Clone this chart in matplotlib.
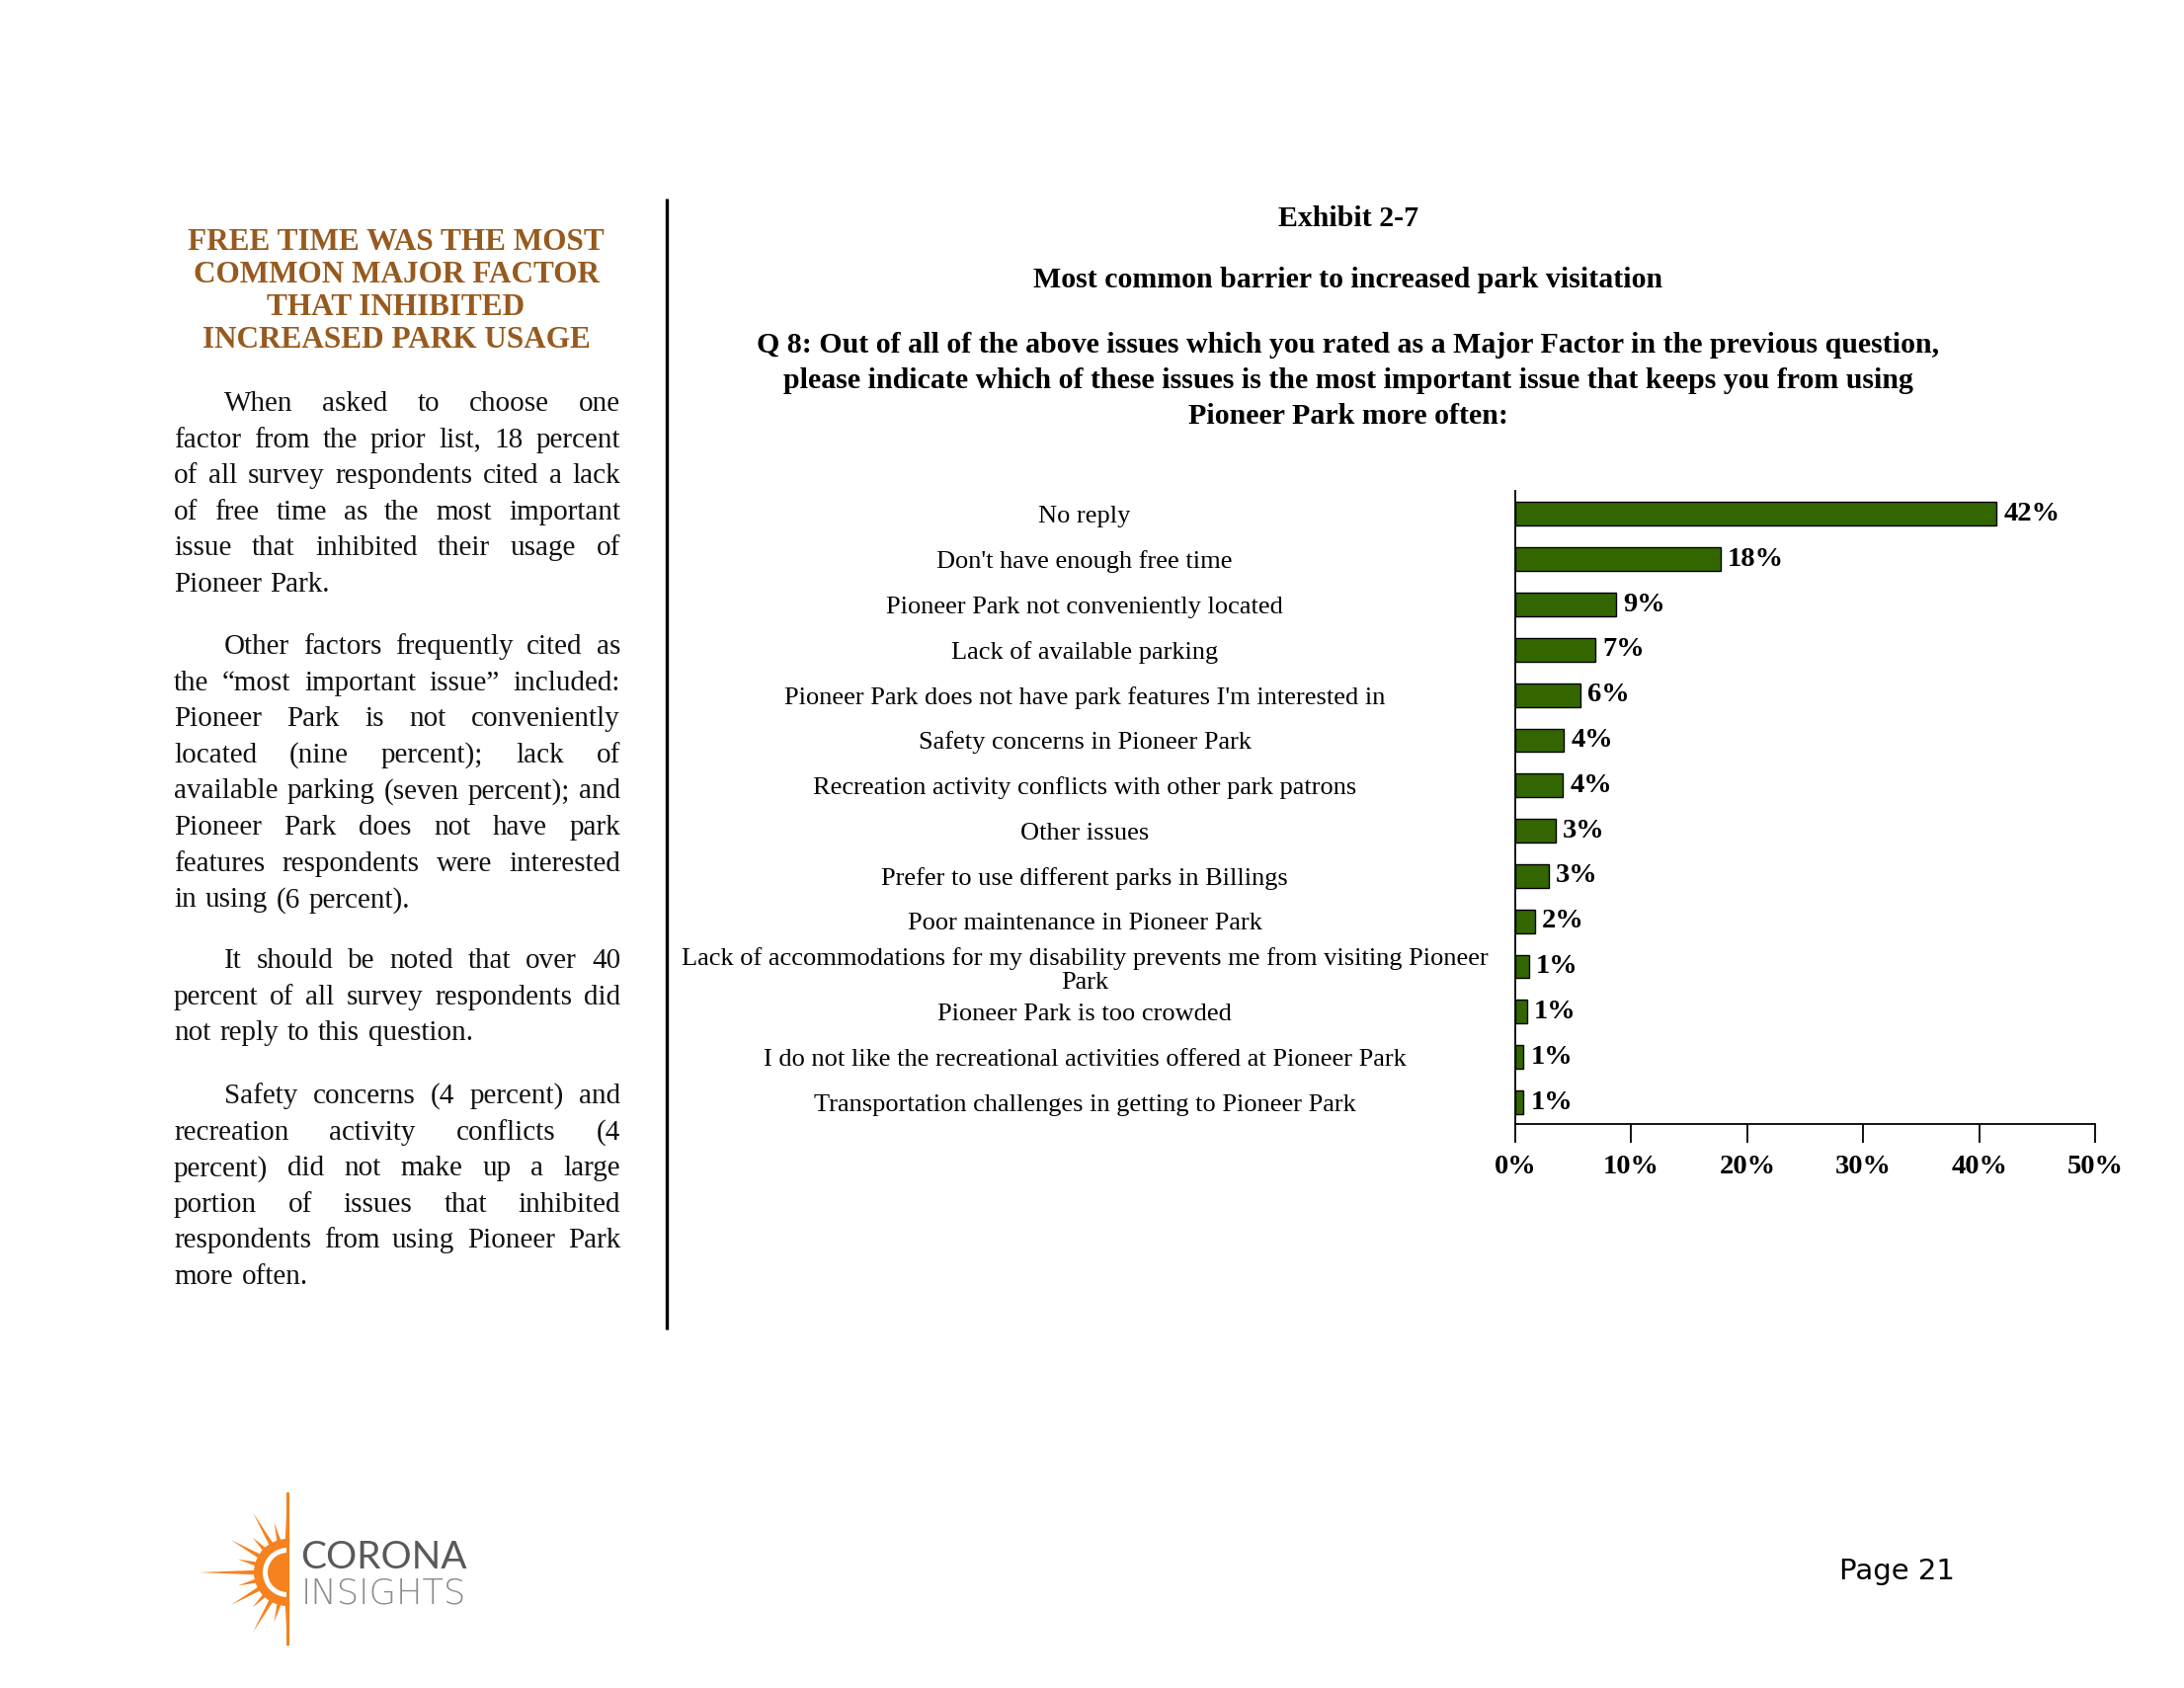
"""
Pioneer Park survey page: Exhibit 2-7 bar chart with the text column
"""

import matplotlib
matplotlib.use('Agg')
import matplotlib.pyplot as plt
from matplotlib.patches import Wedge, Polygon
import numpy as np

# page size in pixels
W, H = 2211, 1709
DPI = 100

SERIF = ['Liberation Serif', 'DejaVu Serif']
SANS = ['Lato', 'DejaVu Sans']

# chart data
categories = [
    "No reply",
    "Don't have enough free time",
    "Pioneer Park not conveniently located",
    "Lack of available parking",
    "Pioneer Park does not have park features I'm interested in",
    "Safety concerns in Pioneer Park",
    "Recreation activity conflicts with other park patrons",
    "Other issues",
    "Prefer to use different parks in Billings",
    "Poor maintenance in Pioneer Park",
    "Lack of accommodations for my disability prevents me from visiting Pioneer\nPark",
    "Pioneer Park is too crowded",
    "I do not like the recreational activities offered at Pioneer Park",
    "Transportation challenges in getting to Pioneer Park",
]
values = [41.5, 17.7, 8.7, 6.9, 5.6, 4.2, 4.1, 3.5, 2.9, 1.7, 1.2, 1.0, 0.7, 0.7]
value_labels = ['42%', '18%', '9%', '7%', '6%', '4%', '4%', '3%', '3%', '2%',
                '1%', '1%', '1%', '1%']
x_ticks = [0, 10, 20, 30, 40, 50]
x_tick_labels = ['0%', '10%', '20%', '30%', '40%', '50%']

heading_lines = [
    "FREE TIME WAS THE MOST",
    "COMMON MAJOR FACTOR",
    "THAT INHIBITED",
    "INCREASED PARK USAGE",
]

paragraphs = [
    ["When asked to choose one",
     "factor from the prior list, 18 percent",
     "of all survey respondents cited a lack",
     "of free time as the most important",
     "issue that inhibited their usage of",
     "Pioneer Park."],
    ["Other factors frequently cited as",
     "the \u201cmost important issue\u201d included:",
     "Pioneer Park is not conveniently",
     "located (nine percent); lack of",
     "available parking (seven percent); and",
     "Pioneer Park does not have park",
     "features respondents were interested",
     "in using (6 percent)."],
    ["It should be noted that over 40",
     "percent of all survey respondents did",
     "not reply to this question."],
    ["Safety concerns (4 percent) and",
     "recreation activity conflicts (4",
     "percent) did not make up a large",
     "portion of issues that inhibited",
     "respondents from using Pioneer Park",
     "more often."],
]
paragraph_tops = [416, 662, 980, 1117]

title_lines = [
    ("Exhibit 2-7", 229),
    ("Most common barrier to increased park visitation", 291),
    ("Q 8: Out of all of the above issues which you rated as a Major Factor in the previous question,", 357),
    ("please indicate which of these issues is the most important issue that keeps you from using", 393),
    ("Pioneer Park more often:", 429),
]

fig = plt.figure(figsize=(W / DPI, H / DPI), dpi=DPI)
fig.patch.set_facecolor('white')

# full page overlay in pixel coordinates
bg = fig.add_axes([0, 0, 1, 1])
bg.set_xlim(0, W)
bg.set_ylim(H, 0)
bg.axis('off')

# vertical divider
bg.plot([675, 675], [201, 1346], color='black', lw=2.4, solid_capstyle='butt')

# left heading
for i, line in enumerate(heading_lines):
    bg.text(401, 253 + i * 33, line, ha='center', va='baseline', fontsize=22.5,
            family=SERIF, fontweight='bold', color='#975a1e')

# justified body text
renderer = fig.canvas.get_renderer()
body_size = 21
x_left, x_right, indent, step = 176, 628, 51, 36.6
for para, y0 in zip(paragraphs, paragraph_tops):
    for k, line in enumerate(para):
        y = y0 + k * step
        words = line.split(' ')
        start = x_left + (indent if k == 0 else 0)
        texts = [bg.text(0, y, w, fontsize=body_size, family=SERIF,
                         va='baseline', color='#111111') for w in words]
        widths = [t.get_window_extent(renderer=renderer).width for t in texts]
        if k == len(para) - 1 or len(words) == 1:
            gap = body_size * DPI / 72 * 0.3
        else:
            gap = (x_right - start - sum(widths)) / (len(words) - 1)
        pos = start
        for t, w in zip(texts, widths):
            t.set_x(pos)
            pos += w + gap

# chart titles
for text, y in title_lines:
    bg.text(1365, y, text, ha='center', va='baseline', fontsize=21.5,
            family=SERIF, fontweight='bold')

# logo
cx, cy = 291, 1592
orange = '#f5821f'
ray_angles = [90, 105, 120, 135, 150, 165, 180, 195, 210, 225, 240, 255, 270]
ray_lengths = [80, 52, 70, 50, 66, 52, 90, 52, 66, 50, 70, 52, 75]
for ang, ln in zip(ray_angles, ray_lengths):
    a = np.radians(ang)
    da = np.radians(4.5)
    pts = [(cx + 30 * np.cos(a - da), cy - 30 * np.sin(a - da)),
           (cx + ln * np.cos(a), cy - ln * np.sin(a)),
           (cx + 30 * np.cos(a + da), cy - 30 * np.sin(a + da))]
    bg.add_patch(Polygon(pts, closed=True, color=orange, lw=0))
bg.add_patch(Wedge((cx, cy), 34, 90, 270, color=orange, lw=0))
bg.add_patch(Wedge((cx, cy), 25, 90, 270, width=5, color='white', lw=0))
bg.plot([cx, cx], [cy - 80, cy + 72], color=orange, lw=2.2)
bg.text(304, 1588, 'CORONA', fontsize=28, family=SANS, color='#58595b',
        va='baseline', ha='left')
bg.text(305, 1624, 'INSIGHTS', fontsize=25.5, family=['DejaVu Sans'],
        fontweight='light', color='#8a8c8f', va='baseline', ha='left')

# page number
bg.text(1920, 1599, 'Page 21', fontsize=21, family=['DejaVu Sans'],
        ha='center', va='baseline')

# bar chart
ax_left, ax_right, ax_top, ax_bottom = 1534, 2121, 497, 1138
ax = fig.add_axes([ax_left / W, 1 - ax_bottom / H,
                   (ax_right - ax_left) / W, (ax_bottom - ax_top) / H])
ax.patch.set_alpha(0)
ypos = np.arange(len(categories))
ax.barh(ypos, values, height=0.52, color='#336600', edgecolor='black', linewidth=1)
for y, v, lab in zip(ypos, values, value_labels):
    ax.text(v + 0.6, y, lab, va='center', ha='left', fontsize=20.5,
            family=SERIF, fontweight='bold')

ax.set_xlim(0, 50)
ax.set_ylim(len(categories) - 0.52, -0.51)
ax.set_xticks(x_ticks)
ax.set_xticklabels(x_tick_labels, fontsize=20.5, family=SERIF, fontweight='bold')
ax.set_yticks(ypos)
ax.set_yticklabels(categories, fontsize=19, family=SERIF, ha='center',
                   linespacing=1.12)
ax.tick_params(axis='x', direction='out', length=14, width=1.3, pad=8)
ax.tick_params(axis='y', length=0, pad=(ax_left - 1098) * 72 / DPI)
for side in ['top', 'right']:
    ax.spines[side].set_visible(False)
for side in ['left', 'bottom']:
    ax.spines[side].set_linewidth(1.3)

fig.savefig('out.png', dpi=DPI, facecolor='white')
